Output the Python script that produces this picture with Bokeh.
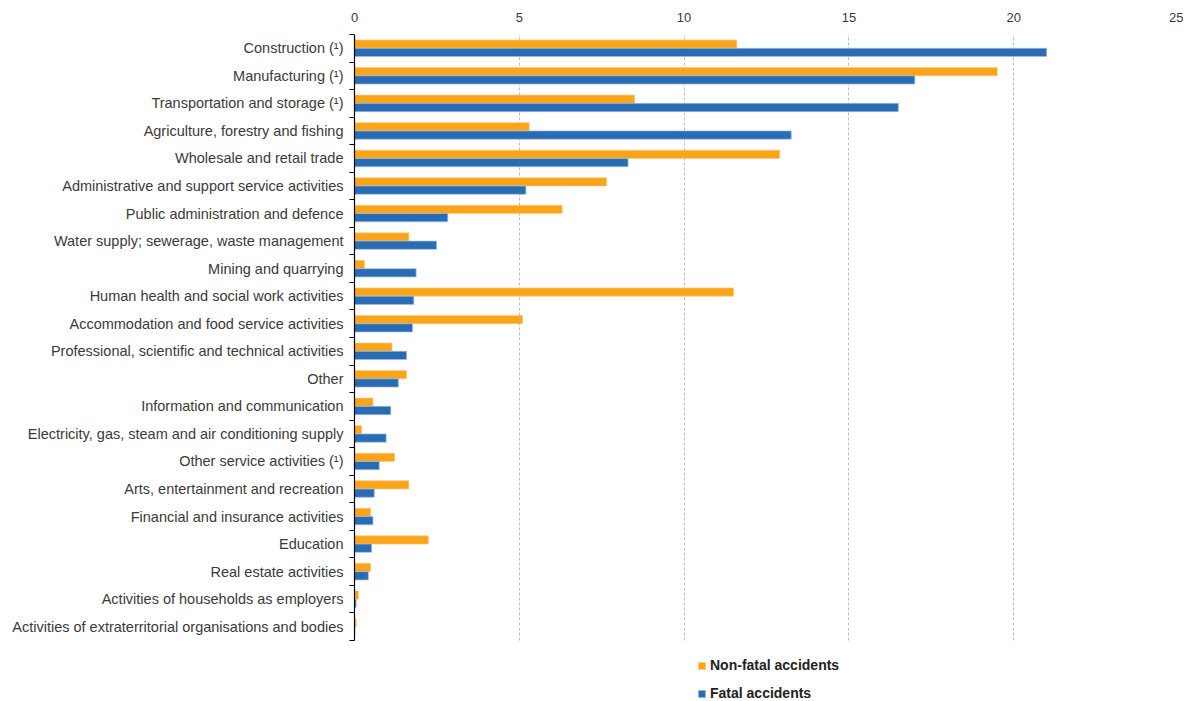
from bokeh.plotting import figure
from bokeh.models import (ColumnDataSource, Range1d, FixedTicker, Legend, LegendItem)
from bokeh.transform import dodge
from bokeh.embed import file_html
from bokeh.resources import INLINE

categories = [
    "Construction (¹)",
    "Manufacturing (¹)",
    "Transportation and storage (¹)",
    "Agriculture, forestry and fishing",
    "Wholesale and retail trade",
    "Administrative and support service activities",
    "Public administration and defence",
    "Water supply; sewerage, waste management",
    "Mining and quarrying",
    "Human health and social work activities",
    "Accommodation and food service activities",
    "Professional, scientific and technical activities",
    "Other",
    "Information and communication",
    "Electricity, gas, steam and air conditioning supply",
    "Other service activities (¹)",
    "Arts, entertainment and recreation",
    "Financial and insurance activities",
    "Education",
    "Real estate activities",
    "Activities of households as employers",
    "Activities of extraterritorial organisations and bodies",
]
non_fatal = [11.6, 19.5, 8.5, 5.3, 12.9, 7.65, 6.3, 1.65, 0.3, 11.5, 5.1, 1.14, 1.58, 0.56, 0.22,
             1.22, 1.65, 0.49, 2.24, 0.49, 0.12, 0.05]
fatal = [21.0, 17.0, 16.5, 13.25, 8.3, 5.2, 2.83, 2.49, 1.87, 1.8, 1.76, 1.58, 1.33, 1.1, 0.96,
         0.75, 0.6, 0.56, 0.52, 0.42, 0.05, 0.01]
x_ticks = [0, 5, 10, 15, 20, 25]
series_names = ["Non-fatal accidents", "Fatal accidents"]

ORANGE = "#FAA41A"
BLUE = "#2A6CB4"
FONT = "Liberation Sans"
TEXT = "#3A3A3A"

n = len(categories)
rows = [n - 1 - i for i in range(n)]          # first category at the top
src = ColumnDataSource(dict(cat=categories, row=rows, nf=non_fatal, f=fatal))

CHART_H = 606          # pixel height of the category area
LEGEND_H = 61          # pixel height reserved under it for the legend
row_px = CHART_H / n
y_start = -0.5 - LEGEND_H / row_px

p = figure(frame_width=824, frame_height=CHART_H + LEGEND_H, output_backend="svg",
           toolbar_location=None,
           y_range=Range1d(y_start, n - 0.5), x_range=Range1d(0, 25), x_axis_location="above",
           min_border_left=354, min_border_right=5, min_border_top=34, min_border_bottom=0)
p.outline_line_color = None

r_nf = p.hbar(y=dodge("row", 0.15), right="nf", left=0, height=0.3, source=src,
              fill_color=ORANGE, line_color="#FCCB7E", line_width=0.7)
r_f = p.hbar(y=dodge("row", -0.15), right="f", left=0, height=0.3, source=src,
             fill_color=BLUE, line_color="#9DBDE3", line_width=0.7)

# x axis (top)
xa = p.xaxis[0]
xa.ticker = FixedTicker(ticks=x_ticks)
xa.axis_line_color = None
xa.major_tick_line_color = None
xa.minor_tick_line_color = None
xa.major_label_text_font = FONT
xa.major_label_text_font_size = "13px"
xa.major_label_text_color = TEXT
xa.major_label_standoff = 7

p.xgrid.ticker = FixedTicker(ticks=x_ticks[1:])
p.xgrid.grid_line_color = "#BDBDBD"
p.xgrid.grid_line_dash = "3 2"
try:
    p.xgrid.cross_bounds = (-0.5, n - 0.5)
except Exception:
    pass
p.ygrid.visible = False

# y axis: labels at row centres, tick marks at row boundaries
ya = p.yaxis[0]
ya.bounds = (-0.5, n - 0.5)
ya.ticker = FixedTicker(ticks=rows, minor_ticks=[r - 0.5 for r in range(n + 1)])
ya.major_label_overrides = {r: c for r, c in zip(rows, categories)}
ya.axis_line_color = "black"
ya.axis_line_width = 1.2
ya.major_tick_line_color = None
ya.minor_tick_line_color = "black"
ya.minor_tick_out = 5
ya.minor_tick_in = 0
ya.major_tick_out = 5
ya.major_tick_in = 0
ya.major_label_text_font = FONT
ya.major_label_text_font_size = "14.5px"
ya.major_label_text_color = TEXT
ya.major_label_standoff = 6

legend = Legend(items=[LegendItem(label=series_names[0], renderers=[r_nf]),
                       LegendItem(label=series_names[1], renderers=[r_f])],
                orientation="vertical", location=(343, 0))
legend.label_text_font = FONT
legend.label_text_font_style = "bold"
legend.label_text_font_size = "14px"
legend.label_text_color = "#222222"
legend.glyph_width = 9
legend.glyph_height = 9
legend.label_height = 14
legend.spacing = 12
legend.padding = 0
legend.margin = 0
legend.label_standoff = 4
legend.border_line_color = None
legend.background_fill_alpha = 0
p.add_layout(legend)

open("out.html", "w").write(file_html(p, INLINE))
